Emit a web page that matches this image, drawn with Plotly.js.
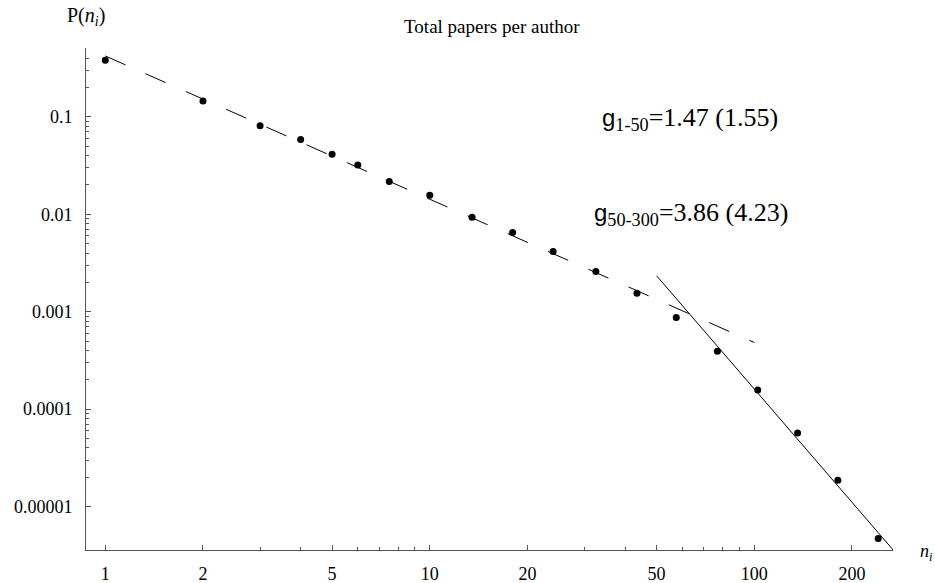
<!DOCTYPE html>
<html>
<head>
<meta charset="utf-8">
<script src="https://cdn.plot.ly/plotly-3.0.1.min.js"></script>
<style>html,body{margin:0;padding:0;background:#fff;}#chart{width:935px;height:583px;}</style>
</head>
<body>
<div id="chart"></div>
<script>
// Data
var authorPapers = [1, 2, 3, 4, 5, 6, 7.5, 10, 13.5, 18, 24, 32.5, 43.5, 57.5, 77, 102.5, 136, 181, 241];
var probability = [0.380, 0.145, 0.0808, 0.0586, 0.0413, 0.0321, 0.0217, 0.0157, 0.0093, 0.00648, 0.00416, 0.00259, 0.00155, 0.000872, 0.000393, 0.000157, 0.000057, 0.0000187, 0.0000047];

// Power-law fits: P = amp * (n/n0)^(-gamma)
var fit1Range = [1, 100];
var fit1Amp = 0.421, fit1N0 = 1, fit1Gamma = 1.47;
var fit2Range = [50, 300];
var fit2Amp = 0.00234, fit2N0 = 50, fit2Gamma = 3.86;

var xTickVals = [1, 2, 5, 10, 20, 50, 100, 200];
var xTickText = ['1', '2', '5', '10', '20', '50', '100', '200'];
var xMinorVals = [3, 4, 6, 7, 8, 9, 30, 40, 60, 70, 80, 90];
var yTickVals = [0.1, 0.01, 0.001, 0.0001, 0.00001];
var yTickText = ['0.1', '0.01', '0.001', '0.0001', '0.00001'];
var yMinorVals = [];
[1e-5, 1e-4, 1e-3, 1e-2, 1e-1].forEach(function (d) {
  for (var k = 2; k <= 9; k++) { if (d * k <= 0.5) yMinorVals.push(d * k); }
});

function fitY(xs, amp, n0, g) { return xs.map(function (x) { return amp * Math.pow(x / n0, -g); }); }

var serif = 'Liberation Serif, Times New Roman, serif';
var sansG = '<span style="font-family:Liberation Sans, Arial, sans-serif;font-size:24px">g</span>';

var traces = [
  {x: fit1Range, y: fitY(fit1Range, fit1Amp, fit1N0, fit1Gamma), mode: 'lines', type: 'scatter',
   line: {color: '#000', width: 1, dash: '22px,22px'}, hoverinfo: 'skip'},
  {x: fit2Range, y: fitY(fit2Range, fit2Amp, fit2N0, fit2Gamma), mode: 'lines', type: 'scatter',
   line: {color: '#000', width: 1}, hoverinfo: 'skip'},
  {x: authorPapers, y: probability, mode: 'markers', type: 'scatter',
   marker: {color: '#000', size: 7}, cliponaxis: false}
];

var axisCommon = {
  type: 'log', showgrid: false, zeroline: false, showline: true,
  linecolor: '#555', linewidth: 1, ticks: 'inside', ticklen: 5, tickcolor: '#555', tickwidth: 1,
  tickmode: 'array', tickfont: {family: serif, size: 18, color: '#000'}
};

var layout = {
  width: 935, height: 583,
  margin: {l: 86, r: 42, t: 48, b: 33},
  paper_bgcolor: '#fff', plot_bgcolor: '#fff',
  showlegend: false,
  title: {text: 'Total papers per author', font: {family: serif, size: 19, color: '#000'},
          x: 0.526, xanchor: 'center', y: 0.955, yanchor: 'middle'},
  xaxis: Object.assign({}, axisCommon, {
    range: [-0.0595, 2.4276], tickvals: xTickVals, ticktext: xTickText,
    ticklabelstandoff: 7,
    minor: {tickmode: 'array', tickvals: xMinorVals, ticks: 'inside', ticklen: 3, tickcolor: '#555', tickwidth: 1, showgrid: false}
  }),
  yaxis: Object.assign({}, axisCommon, {
    range: [-5.445, -0.294], tickvals: yTickVals, ticktext: yTickText,
    ticklabelstandoff: 9,
    minor: {tickmode: 'array', tickvals: yMinorVals, ticks: 'inside', ticklen: 3, tickcolor: '#555', tickwidth: 1, showgrid: false}
  }),
  annotations: [
    {xref: 'paper', yref: 'paper', x: 0.0, y: 1.062, xanchor: 'center', yanchor: 'middle', showarrow: false,
     text: 'P(<i>n<sub>i</sub></i>)', font: {family: serif, size: 20, color: '#000'}},
    {xref: 'paper', yref: 'paper', x: 1.041, y: -0.004, xanchor: 'center', yanchor: 'middle', showarrow: false,
     text: '<i>n<sub>i</sub></i>', font: {family: serif, size: 18, color: '#000'}},
    {xref: 'paper', yref: 'paper', x: 0.637, y: 0.859, xanchor: 'left', yanchor: 'middle', showarrow: false,
     text: sansG + '<sub>1-50</sub>=1.47 (1.55)',
     font: {family: serif, size: 26, color: '#000'}},
    {xref: 'paper', yref: 'paper', x: 0.627, y: 0.669, xanchor: 'left', yanchor: 'middle', showarrow: false,
     text: sansG + '<sub>50-300</sub>=3.86 (4.23)',
     font: {family: serif, size: 26, color: '#000'}}
  ]
};

Plotly.newPlot('chart', traces, layout, {displayModeBar: false, staticPlot: true});
</script>
</body>
</html>
